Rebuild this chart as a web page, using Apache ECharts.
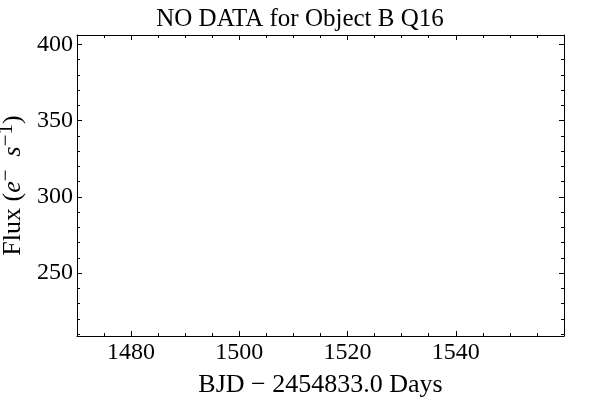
<!DOCTYPE html>
<html>
<head>
<meta charset="utf-8">
<script src="https://cdn.jsdelivr.net/npm/echarts@6/dist/echarts.min.js"></script>
<style>html,body{margin:0;padding:0;background:#fff}#c{width:600px;height:404px}</style>
</head>
<body>
<div id="c"></div>
<script>
var titleText = 'NO DATA for Object B Q16';
var xName = 'BJD \u2212 2454833.0 Days';
var xRange = [1470, 1560];
var yRange = [208.8, 406.1];
var xMajorTicks = [1480, 1500, 1520, 1540];
var xMinorTicks = [1475, 1485, 1490, 1495, 1505, 1510, 1515, 1525, 1530, 1535, 1545, 1550, 1555];
var yMajorTicks = [250, 300, 350, 400];
var yMinorTicks = [210, 220, 230, 240, 260, 270, 280, 290, 310, 320, 330, 340, 360, 370, 380, 390];
var fluxData = []; // no data for this quarter

var FONT = 'Liberation Serif, Times New Roman, serif';
var chart = echarts.init(document.getElementById('c'), null, {renderer: 'canvas'});

function plain(v) { return String(v); }

function xAxisDef(pos, ticks, len, labels, line) {
  return {
    type: 'value', position: pos, min: xRange[0], max: xRange[1],
    axisLine: {show: line, onZero: false, lineStyle: {color: '#000', width: 1}},
    axisTick: {show: true, inside: true, length: len, customValues: ticks, lineStyle: {color: '#000', width: 1}},
    axisLabel: labels ? {show: true, customValues: ticks, formatter: plain, color: '#000', fontFamily: FONT, fontSize: 24, margin: 5} : {show: false},
    splitLine: {show: false}
  };
}
function yAxisDef(pos, ticks, len, labels, line) {
  return {
    type: 'value', position: pos, min: yRange[0], max: yRange[1],
    axisLine: {show: line, onZero: false, lineStyle: {color: '#000', width: 1}},
    axisTick: {show: true, inside: true, length: len, customValues: ticks, lineStyle: {color: '#000', width: 1}},
    axisLabel: labels ? {show: true, customValues: ticks, formatter: plain, color: '#000', fontFamily: FONT, fontSize: 24, margin: 4} : {show: false},
    splitLine: {show: false}
  };
}

var xa0 = xAxisDef('bottom', xMajorTicks, 5, true, true);
xa0.name = xName;
xa0.nameLocation = 'middle';
xa0.nameGap = 36;
xa0.nameTextStyle = {color: '#000', fontFamily: FONT, fontSize: 26};

var ya0 = yAxisDef('left', yMajorTicks, 5, true, true);
ya0.name = '{n|Flux (}{i|e}{s|\u2212}{n|  }{i|s}{s|\u22121}{n|)}';
ya0.nameLocation = 'middle';
ya0.nameGap = 42;
ya0.nameRotate = 90;
ya0.nameTextStyle = {
  color: '#000', fontFamily: FONT, fontSize: 26,
  rich: {
    n: {fontFamily: FONT, fontSize: 26, color: '#000'},
    i: {fontFamily: FONT, fontSize: 26, fontStyle: 'italic', color: '#000'},
    s: {fontFamily: FONT, fontSize: 21, color: '#000', verticalAlign: 'top', padding: [0, 0, 14, 0]}
  }
};

var option = {
  backgroundColor: '#fff',
  animation: false,
  title: {text: titleText, left: 'center', top: 2, textStyle: {color: '#000', fontFamily: FONT, fontSize: 25, fontWeight: 'normal'}},
  grid: {left: 77, right: 36, top: 35, bottom: 68, containLabel: false, outerBoundsMode: 'none'},
  xAxis: [
    xa0,
    xAxisDef('bottom', xMinorTicks, 3, false, false),
    xAxisDef('top', xMajorTicks, 5, false, true),
    xAxisDef('top', xMinorTicks, 3, false, false)
  ],
  yAxis: [
    ya0,
    yAxisDef('left', yMinorTicks, 3, false, false),
    yAxisDef('right', yMajorTicks, 5, false, true),
    yAxisDef('right', yMinorTicks, 3, false, false)
  ],
  series: [{
    type: 'scatter', xAxisIndex: 0, yAxisIndex: 0, data: fluxData,
    symbolSize: 3, itemStyle: {color: '#000'}
  }]
};
chart.setOption(option);
</script>
</body>
</html>
